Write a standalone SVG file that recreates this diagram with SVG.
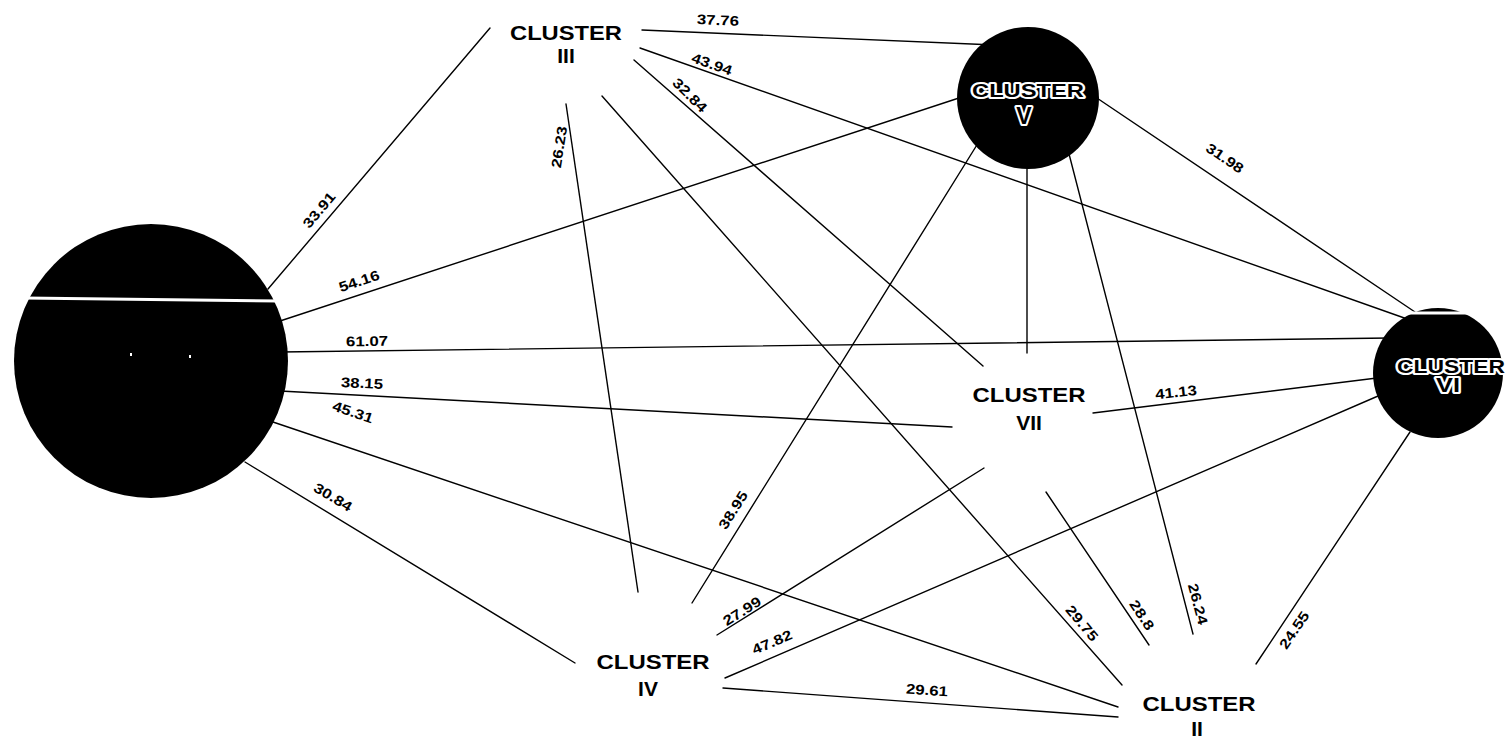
<svg xmlns="http://www.w3.org/2000/svg" width="1507" height="737" viewBox="0 0 1507 737">
<style>
.edge{stroke:#000;stroke-width:1.4;fill:none;stroke-linecap:round}
.lbl{font-family:"Liberation Sans",Arial,sans-serif;font-weight:bold;font-size:14px;fill:#000;text-anchor:middle}
.nm{font-family:"Liberation Sans",Arial,sans-serif;font-weight:bold;font-size:21px;fill:#000;text-anchor:middle}
.inv{font-family:"Liberation Sans",Arial,sans-serif;font-weight:bold;fill:#000;stroke:#fff;stroke-width:4;stroke-linejoin:round;paint-order:stroke;text-anchor:middle}
.blob{fill:#000}
.cut{stroke:#fff;stroke-width:3;fill:none}
</style>
<rect width="1507" height="737" fill="#fff"/>
<g id="connectors">
  <line class="edge" x1="268" y1="289" x2="490" y2="28"/>
  <line class="edge" x1="280" y1="321" x2="965" y2="96"/>
  <line class="edge" x1="280" y1="352" x2="1390" y2="338"/>
  <line class="edge" x1="280" y1="391" x2="952" y2="427"/>
  <line class="edge" x1="270" y1="421" x2="1118" y2="707"/>
  <line class="edge" x1="245" y1="462" x2="575" y2="663"/>
  <line class="edge" x1="642" y1="30" x2="995" y2="45"/>
  <line class="edge" x1="640" y1="48" x2="1410" y2="320"/>
  <line class="edge" x1="634" y1="60" x2="983" y2="366"/>
  <line class="edge" x1="566" y1="104" x2="638" y2="592"/>
  <line class="edge" x1="602" y1="96" x2="1122" y2="685"/>
  <line class="edge" x1="1085" y1="90" x2="1415" y2="312"/>
  <line class="edge" x1="1027" y1="160" x2="1027" y2="353"/>
  <line class="edge" x1="1068" y1="150" x2="1193" y2="634"/>
  <line class="edge" x1="980" y1="140" x2="692" y2="603"/>
  <line class="edge" x1="1385" y1="377" x2="1093" y2="413"/>
  <line class="edge" x1="1385" y1="393" x2="725" y2="678"/>
  <line class="edge" x1="1410" y1="432" x2="1256" y2="664"/>
  <line class="edge" x1="984" y1="468" x2="717" y2="635"/>
  <line class="edge" x1="1046" y1="492" x2="1149" y2="645"/>
  <line class="edge" x1="723" y1="688" x2="1118" y2="717"/>
  <g id="edge-labels">
    <text class="lbl" transform="translate(319,210) rotate(-50)" x="0" y="5" textLength="42" lengthAdjust="spacingAndGlyphs">33.91</text>
    <text class="lbl" transform="translate(359,281) rotate(-18.4)" x="0" y="5" textLength="42" lengthAdjust="spacingAndGlyphs">54.16</text>
    <text class="lbl" transform="translate(367,341) rotate(-0.7)" x="0" y="5" textLength="42" lengthAdjust="spacingAndGlyphs">61.07</text>
    <text class="lbl" transform="translate(362,383) rotate(3)" x="0" y="5" textLength="42" lengthAdjust="spacingAndGlyphs">38.15</text>
    <text class="lbl" transform="translate(353,412) rotate(18.6)" x="0" y="5" textLength="42" lengthAdjust="spacingAndGlyphs">45.31</text>
    <text class="lbl" transform="translate(333,497) rotate(31)" x="0" y="5" textLength="42" lengthAdjust="spacingAndGlyphs">30.84</text>
    <text class="lbl" transform="translate(718,20) rotate(2.5)" x="0" y="5" textLength="42" lengthAdjust="spacingAndGlyphs">37.76</text>
    <text class="lbl" transform="translate(712,64) rotate(19.5)" x="0" y="5" textLength="42" lengthAdjust="spacingAndGlyphs">43.94</text>
    <text class="lbl" transform="translate(690,95) rotate(45)" x="0" y="5" textLength="42" lengthAdjust="spacingAndGlyphs">32.84</text>
    <text class="lbl" transform="translate(559,147) rotate(-81)" x="0" y="5" textLength="42" lengthAdjust="spacingAndGlyphs">26.23</text>
    <text class="lbl" transform="translate(1082,623) rotate(50)" x="0" y="5" textLength="42" lengthAdjust="spacingAndGlyphs">29.75</text>
    <text class="lbl" transform="translate(1225,158) rotate(34)" x="0" y="5" textLength="42" lengthAdjust="spacingAndGlyphs">31.98</text>
    <text class="lbl" transform="translate(1198,604) rotate(75)" x="0" y="5" textLength="42" lengthAdjust="spacingAndGlyphs">26.24</text>
    <text class="lbl" transform="translate(733,510) rotate(-58)" x="0" y="5" textLength="42" lengthAdjust="spacingAndGlyphs">38.95</text>
    <text class="lbl" transform="translate(1176,392) rotate(-6)" x="0" y="5" textLength="42" lengthAdjust="spacingAndGlyphs">41.13</text>
    <text class="lbl" transform="translate(772,642) rotate(-23)" x="0" y="5" textLength="42" lengthAdjust="spacingAndGlyphs">47.82</text>
    <text class="lbl" transform="translate(1294,630) rotate(-56)" x="0" y="5" textLength="42" lengthAdjust="spacingAndGlyphs">24.55</text>
    <text class="lbl" transform="translate(742,611) rotate(-32)" x="0" y="5" textLength="42" lengthAdjust="spacingAndGlyphs">27.99</text>
    <text class="lbl" transform="translate(1142,615) rotate(56)" x="0" y="5" textLength="33" lengthAdjust="spacingAndGlyphs">28.8</text>
    <text class="lbl" transform="translate(927,690) rotate(4)" x="0" y="5" textLength="42" lengthAdjust="spacingAndGlyphs">29.61</text>
  </g>
</g>
<g id="node-big">
  <circle class="blob" cx="151" cy="361" r="137"/>
  <line class="cut" x1="24" y1="298" x2="280" y2="301"/>
  <rect x="130" y="353" width="2" height="3" fill="#fff"/>
  <rect x="189" y="355" width="2" height="3" fill="#fff"/>
</g>
<g id="node-cluster-v">
  <circle class="blob" cx="1028" cy="98" r="71"/>
  <text class="inv" x="1028" y="97" font-size="19" textLength="112" lengthAdjust="spacingAndGlyphs">CLUSTER</text>
  <text class="inv" x="1024" y="124" font-size="23">V</text>
</g>
<g id="node-cluster-vi">
  <circle class="blob" cx="1438" cy="373" r="65"/>
  <line class="cut" x1="1400" y1="313" x2="1480" y2="313"/>
  <text class="inv" x="1451" y="373" font-size="18" textLength="108" lengthAdjust="spacingAndGlyphs">CLUSTER</text>
  <text class="inv" x="1448" y="392" font-size="20" textLength="24" lengthAdjust="spacingAndGlyphs">VI</text>
</g>
<g id="node-cluster-iii">
  <text class="nm" x="566" y="40" textLength="112" lengthAdjust="spacingAndGlyphs">CLUSTER</text>
  <text class="nm" x="566" y="63">III</text>
</g>
<g id="node-cluster-iv">
  <text class="nm" x="653" y="669" textLength="113" lengthAdjust="spacingAndGlyphs">CLUSTER</text>
  <text class="nm" x="648" y="696">IV</text>
</g>
<g id="node-cluster-vii">
  <text class="nm" x="1029" y="402" textLength="113" lengthAdjust="spacingAndGlyphs">CLUSTER</text>
  <text class="nm" x="1029" y="430">VII</text>
</g>
<g id="node-cluster-ii">
  <text class="nm" x="1199" y="711" textLength="113" lengthAdjust="spacingAndGlyphs">CLUSTER</text>
  <text class="nm" x="1197" y="736">II</text>
</g>
</svg>
